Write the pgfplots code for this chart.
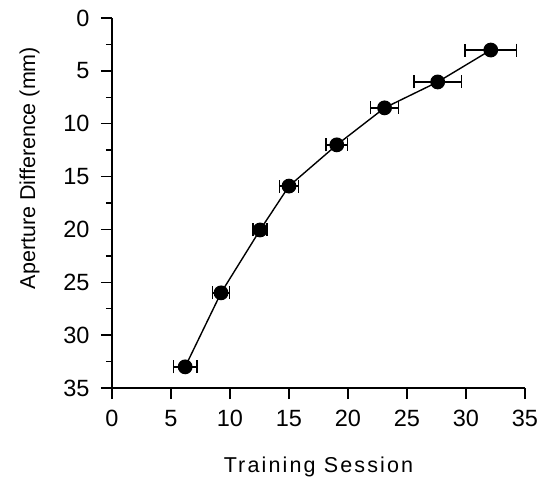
\documentclass[border=0pt]{standalone}
\usepackage{pgfplots}
\pgfplotsset{compat=1.18}
\usepackage{fontspec}
\setmainfont{Liberation Sans}
\newfontfamily\xlabfont[LetterSpace=10]{Liberation Sans}
\begin{document}
\begin{tikzpicture}
\begin{axis}[
  scale only axis,
  width=413pt, height=370pt,
  axis lines*=left,
  xmin=0, xmax=35, ymin=0, ymax=35,
  y dir=reverse,
  xtick={0,5,...,35}, ytick={0,5,...,35},
  minor y tick num=1,
  tick align=outside,
  major tick length=11pt, minor tick length=6pt,
  every tick/.style={black, line width=1.4pt},
  axis line style={line width=1.4pt},
  /pgf/number format/assume math mode=true,
  tick label style={font=\fontsize{23.5}{26}\selectfont},
  xlabel={\xlabfont Training Session},
  ylabel={Aperture Difference (mm)},
  xlabel style={font=\fontsize{21.5}{24}\selectfont, at={(axis description cs:0.5,0)}, anchor=base, yshift=-84pt},
  ylabel style={font=\fontsize{21.5}{24}\selectfont, at={(axis description cs:-0.1864,0.5946)}, anchor=base},
  xticklabel style={anchor=north, yshift=-8pt},
  yticklabel style={anchor=east, xshift=-8pt},
  clip=false,
]
\addplot+[black, line width=1.4pt, mark=*, mark size=6.7pt,
  mark options={fill=black, solid},
  error bars/.cd, x dir=both, x explicit,
  error bar style={line width=1.4pt},
  error mark options={rotate=90, mark size=6.5pt, line width=1.4pt}]
coordinates {
 (6.2,33.0) +- (1.0,0)
 (9.24,26.0) +- (0.7,0)
 (12.55,20.05) +- (0.6,0)
 (15.0,15.9) +- (0.8,0)
 (19.05,12.0) +- (0.9,0)
 (23.1,8.5) +- (1.2,0)
 (27.6,6.05) +- (2.0,0)
 (32.1,3.03) +- (2.2,0)
};
\end{axis}
\useasboundingbox ([shift={(-112pt,-95pt)}]current axis.south west) rectangle ([shift={(21pt,18pt)}]current axis.north east);
\end{tikzpicture}
\end{document}
